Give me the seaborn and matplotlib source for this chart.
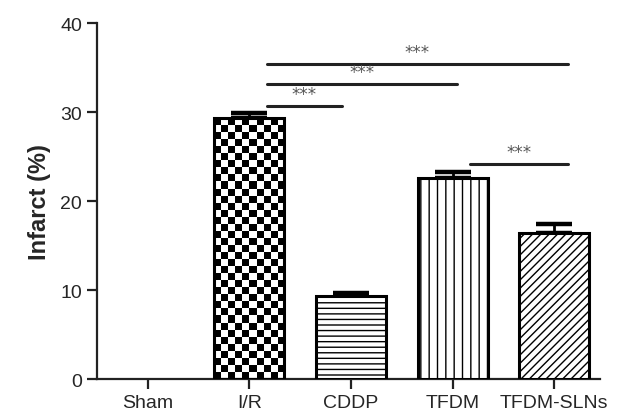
import numpy as np
import matplotlib
matplotlib.use("Agg")
import matplotlib.pyplot as plt
import seaborn as sns

groups = ["Sham", "I/R", "CDDP", "TFDM", "TFDM-SLNs"]
infarct = [0.0, 29.3, 9.3, 22.55, 16.4]
sem = [0.0, 0.6, 0.35, 0.75, 1.05]
hatches = [None, "checker", "---", "||", "////"]

# significance brackets (from, to, height)
sig_from = ["I/R", "I/R", "I/R", "TFDM"]
sig_to = ["CDDP", "TFDM", "TFDM-SLNs", "TFDM-SLNs"]
sig_y = [30.7, 33.2, 35.4, 24.2]
sig_end = [-0.09, 0.04, 0.13, 0.13]
sig_label = "***"

sns.set_style("ticks")
plt.rcParams["font.family"] = ["Liberation Sans", "DejaVu Sans"]
plt.rcParams["hatch.linewidth"] = 1.0

fig = plt.figure(figsize=(6.37, 4.14), dpi=100)
ax = fig.add_axes([0.152, 0.082, 0.79, 0.86])

sns.barplot(x=groups, y=infarct, color="white", edgecolor="black",
            linewidth=2.2, width=0.69, errorbar=None, saturation=1, ax=ax)

for i, p in enumerate(ax.patches):
    if infarct[i] == 0:
        p.set_linewidth(0)
        continue
    p.set_zorder(3)
    if hatches[i] == "checker":
        p.set_facecolor("none")
    elif hatches[i]:
        p.set_hatch(hatches[i])

x = np.arange(len(groups))
ax.errorbar(x[1:], infarct[1:], yerr=[np.zeros(4), sem[1:]], fmt="none",
            ecolor="black", elinewidth=2, capsize=13, capthick=3.2, zorder=2)

ax.set_xlim(-0.5, 4.45)
ax.set_ylim(0, 40)
ax.set_yticks([0, 10, 20, 30, 40])
ax.set_ylabel("Infarct (%)", fontsize=17, fontweight="bold", labelpad=7)
ax.tick_params(axis="both", labelsize=14, width=1.6, length=7, color="#222222")
ax.tick_params(axis="x", pad=4)
for s in ["left", "bottom"]:
    ax.spines[s].set_linewidth(1.6)
    ax.spines[s].set_color("#222222")
sns.despine(ax=ax)

# checkerboard fill for I/R
fig.canvas.draw()
p = ax.patches[1]
bb = p.get_window_extent()
nx = max(1, int(round(bb.width / 7)))
ny = max(1, int(round(bb.height / 7)))
board = (np.indices((ny, nx)).sum(axis=0) % 2).astype(float)
im = ax.imshow(board, cmap="gray", extent=(p.get_x(), p.get_x() + p.get_width(), 0, p.get_height()),
               aspect="auto", interpolation="nearest", zorder=2.5)
im.set_clip_path(p)
ax.set_xlim(-0.5, 4.45)
ax.set_ylim(0, 40)

for a, b, y, e in zip(sig_from, sig_to, sig_y, sig_end):
    x0 = groups.index(a) + 0.17
    x1 = groups.index(b) + e
    ax.plot([x0, x1], [y, y], color="#222222", lw=2.2, solid_capstyle="round", clip_on=False)
    ax.text((x0 + x1) / 2, y + 0.3, sig_label, ha="center", va="bottom",
            fontsize=12, color="#555555", family="DejaVu Sans")

fig.savefig("out.png", dpi=100)
